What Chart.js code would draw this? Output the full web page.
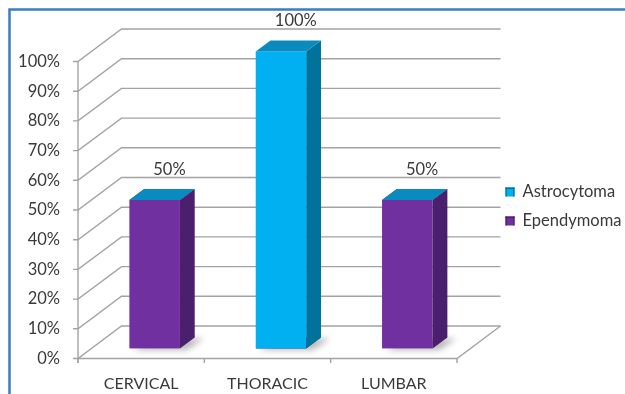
<!DOCTYPE html>
<html>
<head>
<meta charset="utf-8">
<script src="https://cdn.jsdelivr.net/npm/chart.js@4/dist/chart.umd.min.js"></script>
<style>
  html, body { margin: 0; padding: 0; background: #ffffff; }
  #wrap { position: relative; width: 625px; height: 394px; overflow: hidden; }
  canvas { display: block; }
</style>
</head>
<body>
<div id="wrap"><canvas id="chart" width="625" height="394"></canvas></div>
<script>
// Tumour location by type (share of cases, %)
const categories = ['CERVICAL', 'THORACIC', 'LUMBAR'];
const ependymoma = [50, 0, 50];
const astrocytoma = [0, 100, 0];
const yTickValues = [0, 10, 20, 30, 40, 50, 60, 70, 80, 90, 100];

const FONT = 'Lato, "Open Sans", sans-serif';
const TEXT = '#3a3a3a';
const GRID = '#a3a3a3';

// Colours for each series: front face, side face, top face
const palette = {
  Ependymoma:  { front: '#7030a0', side: '#4a1f6b', top: '#5b2788' },
  Astrocytoma: { front: '#00b0f0', side: '#00729c', top: '#0a8bbf' }
};

// Depth of the 3D floor/walls, and where each bar sits inside that depth
const DEPTH = { dx: 43.5, dy: -32.5, barFront: 0.31, barBack: 0.65 };

const box3d = {
  id: 'box3d',
  beforeDatasetsDraw(chart) {
    const ctx = chart.ctx;
    const area = chart.chartArea;
    const ys = chart.scales.y;
    const L = area.left, R = area.right, B = area.bottom;
    const dx = DEPTH.dx, dy = DEPTH.dy;

    ctx.save();
    ctx.strokeStyle = GRID;
    ctx.lineWidth = 1.4;
    ctx.lineCap = 'butt';

    // back wall gridlines + side wall diagonals + left tick marks
    yTickValues.forEach(v => {
      const y = ys.getPixelForValue(v);
      ctx.beginPath();
      ctx.moveTo(L - 5, y);
      ctx.lineTo(L, y);
      ctx.lineTo(L + dx, y + dy);
      ctx.lineTo(R + dx, y + dy);
      ctx.stroke();
    });

    // front vertical axis
    const yTop = ys.getPixelForValue(yTickValues[yTickValues.length - 1]);
    ctx.beginPath();
    ctx.moveTo(L, yTop);
    ctx.lineTo(L, B + 4.5);
    ctx.stroke();

    // floor front and right edges
    ctx.beginPath();
    ctx.moveTo(L, B);
    ctx.lineTo(R, B);
    ctx.lineTo(R + dx, B + dy);
    ctx.stroke();

    // category boundary ticks
    const n = categories.length;
    for (let i = 0; i <= n; i++) {
      const x = L + (R - L) * i / n;
      ctx.beginPath();
      ctx.moveTo(x, B);
      ctx.lineTo(x, B + 4.5);
      ctx.stroke();
    }
    ctx.restore();

    const fdx = DEPTH.barFront * dx, fdy = DEPTH.barFront * dy;
    const bdx = (DEPTH.barBack - DEPTH.barFront) * dx;
    const bdy = (DEPTH.barBack - DEPTH.barFront) * dy;

    // soft floor shadows
    categories.forEach((c, i) => {
      const el = chart.getDatasetMeta(0).data[i];
      const w = el.width;
      const x0 = el.x - w / 2 + fdx, x1 = el.x + w / 2 + fdx;
      const yb = el.base + fdy;
      ctx.save();
      ctx.filter = 'blur(3px)';
      ctx.fillStyle = 'rgba(0,0,0,0.28)';
      ctx.beginPath();
      ctx.moveTo(x0 + 4, yb + 1.5);
      ctx.lineTo(x1 + 7, yb + 1.5);
      ctx.lineTo(x1 + bdx + 9, yb + bdy + 1);
      ctx.lineTo(x0 + bdx + 6, yb + bdy + 1);
      ctx.closePath();
      ctx.fill();
      ctx.restore();
    });

    // stacked 3D boxes, bottom segment first
    categories.forEach((c, i) => {
      chart.data.datasets.forEach((ds, d) => {
        const el = chart.getDatasetMeta(d).data[i];
        const col = palette[ds.label];
        const w = el.width;
        const x0 = el.x - w / 2 + fdx, x1 = el.x + w / 2 + fdx;
        const yt = el.y + fdy, yb = el.base + fdy;

        ctx.save();
        if (yb - yt > 0) {
          // front
          ctx.fillStyle = col.front;
          ctx.fillRect(x0, yt, x1 - x0, yb - yt);
          // side
          ctx.fillStyle = col.side;
          ctx.beginPath();
          ctx.moveTo(x1, yb);
          ctx.lineTo(x1 + bdx, yb + bdy);
          ctx.lineTo(x1 + bdx, yt + bdy);
          ctx.lineTo(x1, yt);
          ctx.closePath();
          ctx.fill();
        }
        // top
        ctx.fillStyle = col.top;
        ctx.beginPath();
        ctx.moveTo(x0, yt);
        ctx.lineTo(x1, yt);
        ctx.lineTo(x1 + bdx, yt + bdy);
        ctx.lineTo(x0 + bdx, yt + bdy);
        ctx.closePath();
        ctx.fill();
        ctx.restore();
      });
    });
    return false;
  },
  afterDraw(chart) {
    const ctx = chart.ctx;
    const fdx = DEPTH.barFront * DEPTH.dx, fdy = DEPTH.barFront * DEPTH.dy;
    const bdx = (DEPTH.barBack - DEPTH.barFront) * DEPTH.dx;
    const bdy = (DEPTH.barBack - DEPTH.barFront) * DEPTH.dy;

    // value labels above each non-empty segment
    ctx.save();
    ctx.font = '16.5px ' + FONT;
    ctx.fillStyle = TEXT;
    ctx.textAlign = 'center';
    ctx.textBaseline = 'middle';
    chart.data.datasets.forEach((ds, d) => {
      const meta = chart.getDatasetMeta(d);
      ds.data.forEach((v, i) => {
        if (!v) return;
        const el = meta.data[i];
        ctx.fillText(v + '%', el.x + fdx + bdx, el.y + fdy + bdy - 19.5);
      });
    });
    ctx.restore();

    // legend (top series first)
    ctx.save();
    ctx.font = '16.5px ' + FONT;
    ctx.textBaseline = 'middle';
    ctx.textAlign = 'left';
    const items = chart.data.datasets.slice().reverse();
    items.forEach((ds, k) => {
      const col = palette[ds.label];
      const mx = 505.5, my = 187.5 + k * 29;
      ctx.fillStyle = col.front;
      ctx.fillRect(mx, my, 9, 9);
      ctx.fillStyle = col.side;
      ctx.fillRect(mx, my, 9, 1.5);
      ctx.fillRect(mx, my, 1.2, 9);
      ctx.fillRect(mx + 7.8, my, 1.2, 9);
      ctx.fillStyle = TEXT;
      ctx.fillText(ds.label, 522.5, my + 4.5);
    });
    ctx.restore();

    // outer frame (top and left edges)
    ctx.save();
    ctx.strokeStyle = '#3b7cc2';
    ctx.lineWidth = 2.5;
    ctx.beginPath();
    ctx.moveTo(9.5, 394);
    ctx.lineTo(9.5, 9.5);
    ctx.lineTo(625, 9.5);
    ctx.stroke();
    ctx.restore();
  }
};

new Chart(document.getElementById('chart'), {
  type: 'bar',
  data: {
    labels: categories,
    datasets: [
      { label: 'Ependymoma', data: ependymoma, backgroundColor: palette.Ependymoma.front,
        barPercentage: 0.4, categoryPercentage: 1 },
      { label: 'Astrocytoma', data: astrocytoma, backgroundColor: palette.Astrocytoma.front,
        barPercentage: 0.4, categoryPercentage: 1 }
    ]
  },
  options: {
    responsive: false,
    devicePixelRatio: 1,
    animation: false,
    layout: { padding: { top: 61.5, right: 168, left: 0, bottom: 0 } },
    plugins: { legend: { display: false }, tooltip: { enabled: false } },
    scales: {
      x: {
        stacked: true,
        grid: { display: false, drawTicks: false },
        border: { display: false },
        ticks: { color: TEXT, font: { family: FONT, size: 16 }, padding: 16, maxRotation: 0 },
        afterFit(s) { s.height = 35.5; }
      },
      y: {
        stacked: true,
        min: yTickValues[0],
        max: yTickValues[yTickValues.length - 1],
        grid: { display: false, drawTicks: false },
        border: { display: false },
        ticks: { stepSize: 10, color: TEXT, font: { family: FONT, size: 16.5 }, padding: 18,
                 callback: v => v + '%' },
        afterFit(s) { s.width = 78; }
      }
    }
  },
  plugins: [box3d]
});
</script>
</body>
</html>
